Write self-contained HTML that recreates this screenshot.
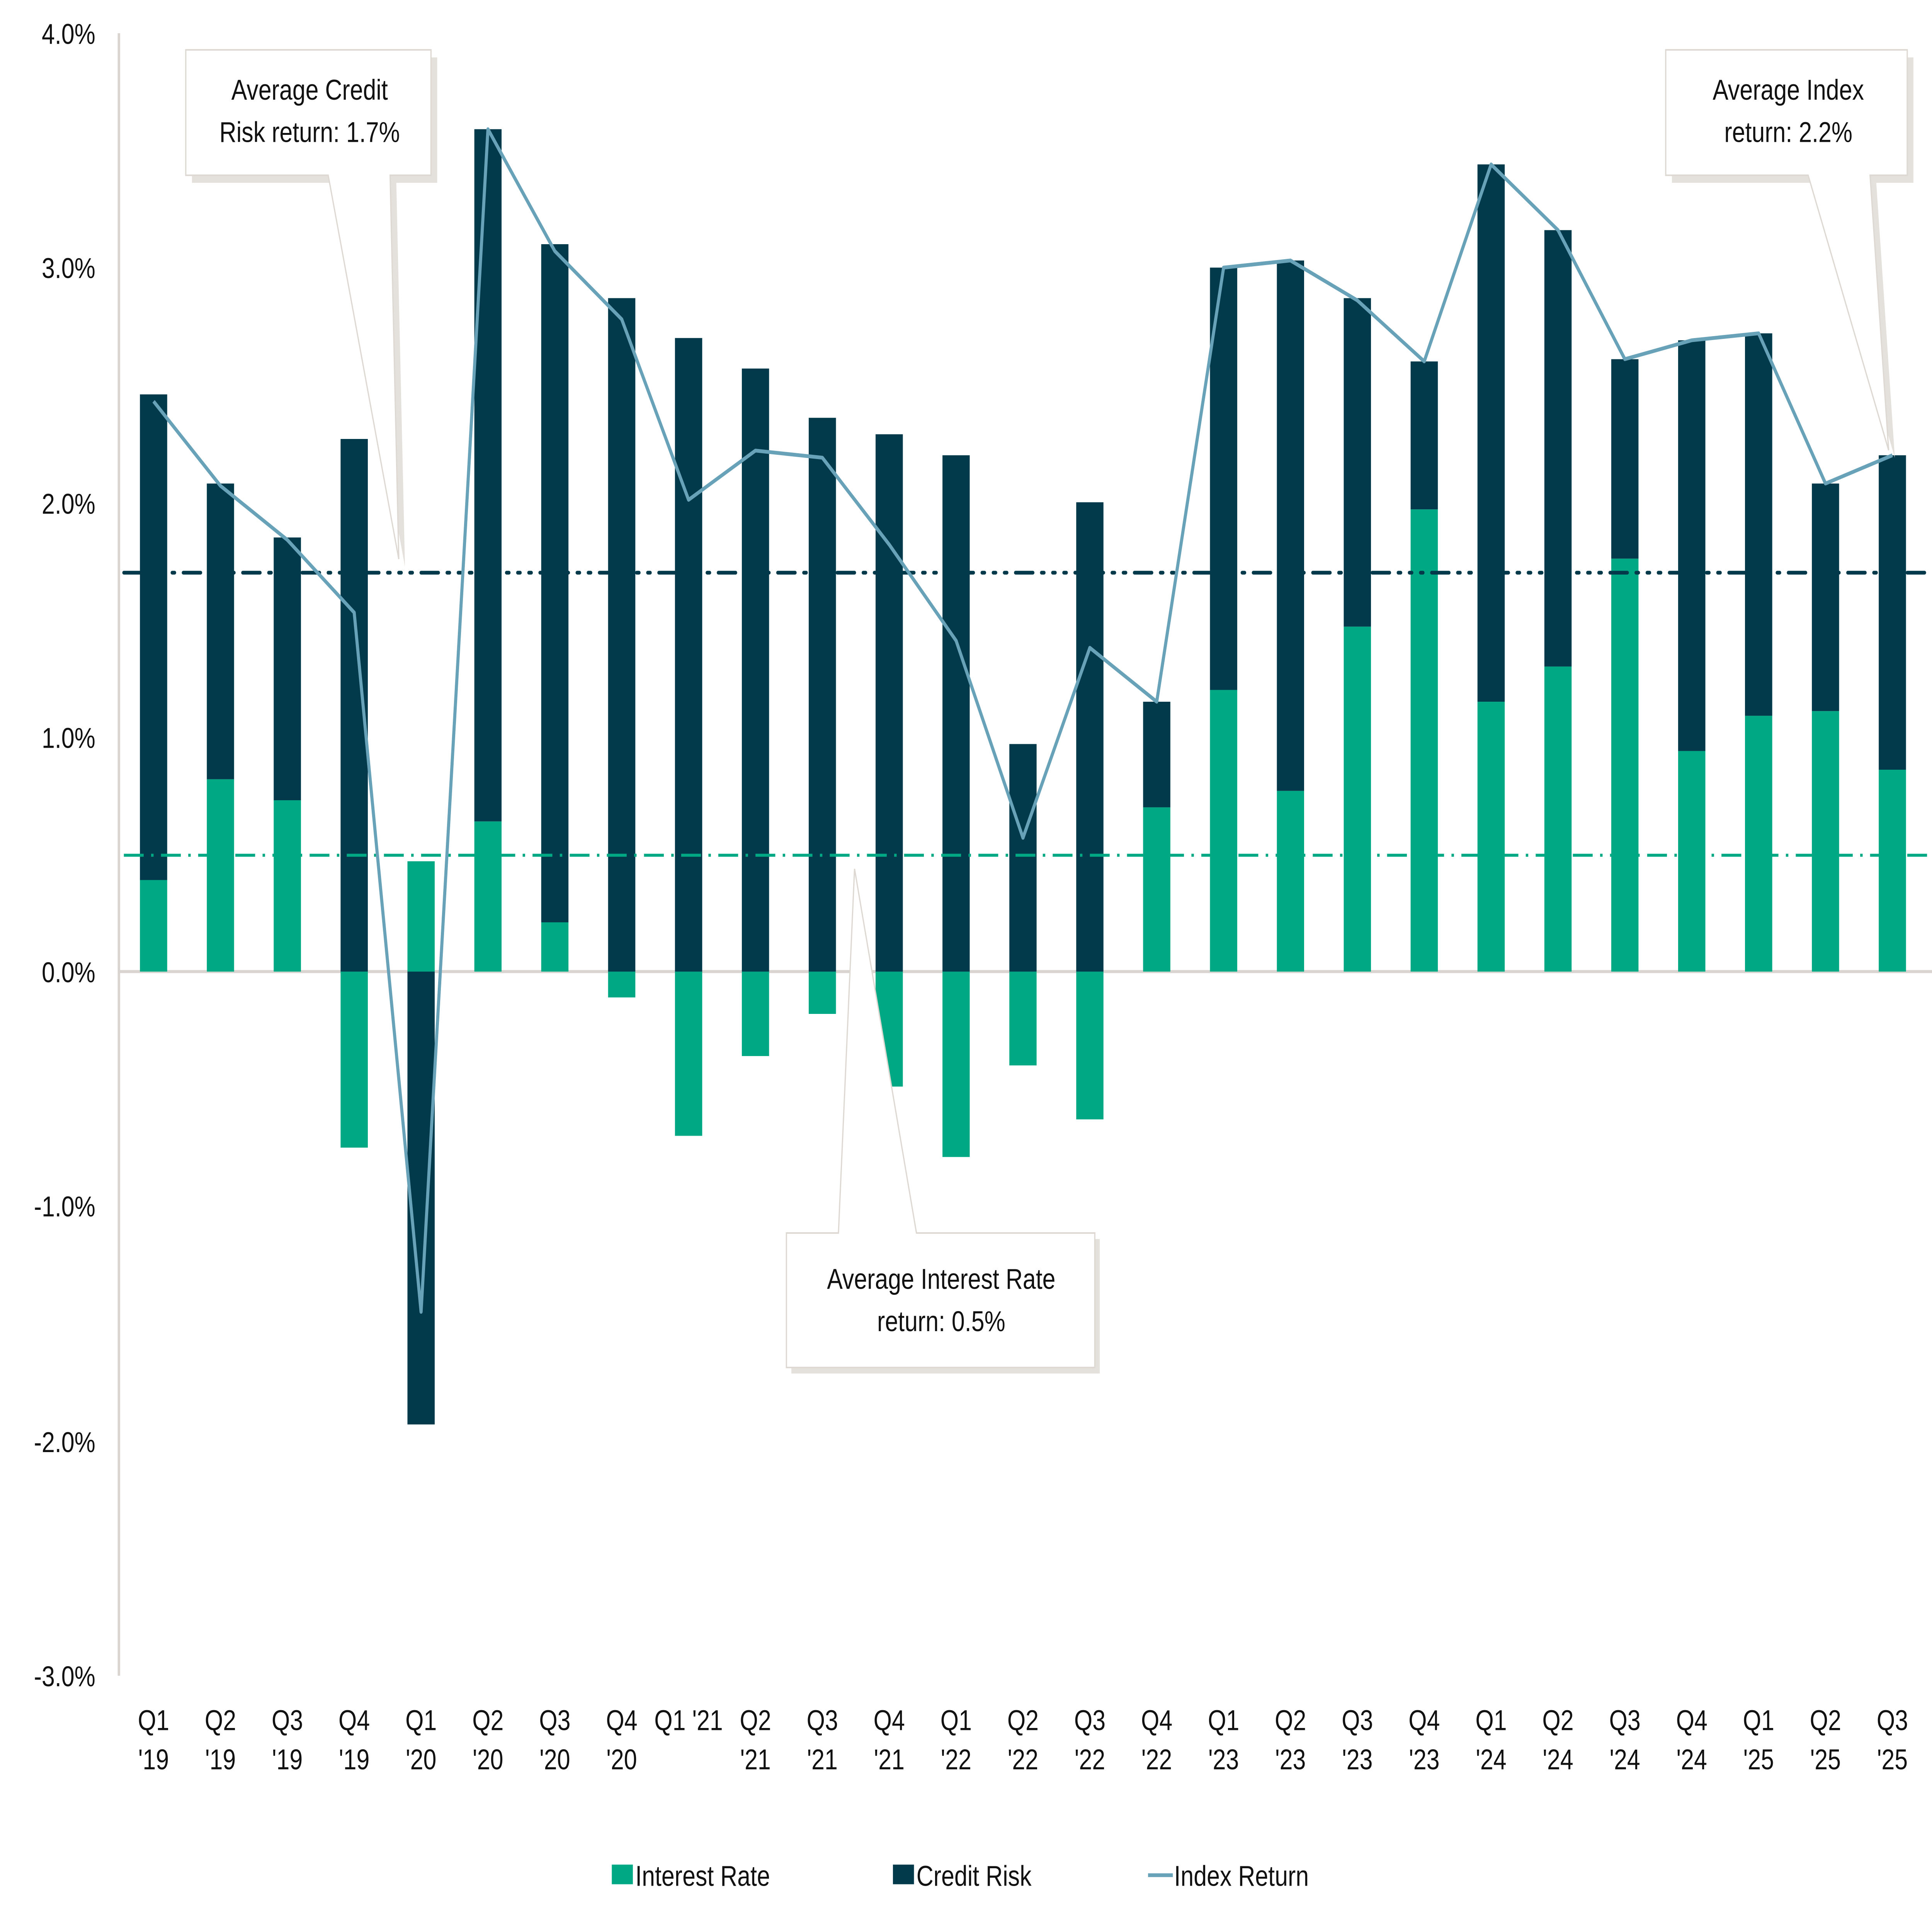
<!DOCTYPE html>
<html><head><meta charset="utf-8"><style>
html,body{margin:0;padding:0;background:#fff;width:100%;height:100%;overflow:hidden;}
svg{display:block;position:absolute;left:0;top:0;width:100vw;height:100vh;}
text{font-family:"Liberation Sans",sans-serif;fill:#111;}
</style></head><body>
<svg viewBox="0 0 1560 1278.6" preserveAspectRatio="none" xmlns="http://www.w3.org/2000/svg">
<rect width="1560" height="1278.6" fill="#fff"/>
<line x1="96" y1="22" x2="96" y2="1109" stroke="#d9d4cf" stroke-width="2"/>
<line x1="96" y1="643" x2="1560" y2="643" stroke="#d9d4cf" stroke-width="2"/>
<g font-size="19" text-anchor="end">
<text x="77" y="29">4.0%</text>
<text x="77" y="184">3.0%</text>
<text x="77" y="340">2.0%</text>
<text x="77" y="495">1.0%</text>
<text x="77" y="650">0.0%</text>
<text x="77" y="805">-1.0%</text>
<text x="77" y="961">-2.0%</text>
<text x="77" y="1116">-3.0%</text>
</g>
<g fill="#00A983">
<rect x="113" y="582.4" width="22" height="60.6"/>
<rect x="167" y="515.7" width="22" height="127.3"/>
<rect x="221" y="529.6" width="22" height="113.4"/>
<rect x="275" y="643" width="22" height="116.5"/>
<rect x="329" y="570" width="22" height="73"/>
<rect x="383" y="543.6" width="22" height="99.4"/>
<rect x="437" y="610.4" width="22" height="32.6"/>
<rect x="491" y="643" width="22" height="17.1"/>
<rect x="545" y="643" width="22" height="108.7"/>
<rect x="599" y="643" width="22" height="55.9"/>
<rect x="653" y="643" width="22" height="28"/>
<rect x="707" y="643" width="22" height="76.1"/>
<rect x="761" y="643" width="22" height="122.7"/>
<rect x="815" y="643" width="22" height="62.1"/>
<rect x="869" y="643" width="22" height="97.8"/>
<rect x="923" y="534.3" width="22" height="108.7"/>
<rect x="977" y="456.6" width="22" height="186.4"/>
<rect x="1031" y="523.4" width="22" height="119.6"/>
<rect x="1085" y="414.7" width="22" height="228.3"/>
<rect x="1139" y="337.1" width="22" height="305.9"/>
<rect x="1193" y="464.4" width="22" height="178.6"/>
<rect x="1247" y="441.1" width="22" height="201.9"/>
<rect x="1301" y="369.7" width="22" height="273.3"/>
<rect x="1355" y="497" width="22" height="146"/>
<rect x="1409" y="473.7" width="22" height="169.3"/>
<rect x="1463" y="470.6" width="22" height="172.4"/>
<rect x="1517" y="509.4" width="22" height="133.6"/>
</g>
<g fill="#023A4B">
<rect x="113" y="261" width="22" height="321.4"/>
<rect x="167" y="320" width="22" height="195.7"/>
<rect x="221" y="355.7" width="22" height="173.9"/>
<rect x="275" y="290.5" width="22" height="352.5"/>
<rect x="329" y="643" width="22" height="299.7"/>
<rect x="383" y="85.5" width="22" height="458.1"/>
<rect x="437" y="161.6" width="22" height="448.8"/>
<rect x="491" y="197.3" width="22" height="445.7"/>
<rect x="545" y="223.7" width="22" height="419.3"/>
<rect x="599" y="243.9" width="22" height="399.1"/>
<rect x="653" y="276.5" width="22" height="366.5"/>
<rect x="707" y="287.4" width="22" height="355.6"/>
<rect x="761" y="301.3" width="22" height="341.7"/>
<rect x="815" y="492.4" width="22" height="150.6"/>
<rect x="869" y="332.4" width="22" height="310.6"/>
<rect x="923" y="464.4" width="22" height="69.9"/>
<rect x="977" y="177.1" width="22" height="279.5"/>
<rect x="1031" y="172.4" width="22" height="351"/>
<rect x="1085" y="197.3" width="22" height="217.4"/>
<rect x="1139" y="239.2" width="22" height="97.9"/>
<rect x="1193" y="108.8" width="22" height="355.6"/>
<rect x="1247" y="152.3" width="22" height="288.8"/>
<rect x="1301" y="237.7" width="22" height="132"/>
<rect x="1355" y="225.2" width="22" height="271.8"/>
<rect x="1409" y="220.6" width="22" height="253.1"/>
<rect x="1463" y="320" width="22" height="150.6"/>
<rect x="1517" y="301.3" width="22" height="208.1"/>
</g>
<line x1="100" y1="379" x2="1560" y2="379" stroke="#023A4B" stroke-width="2.5" stroke-dasharray="14 7 2 7 2 7 2 7" stroke-linecap="round"/>
<line x1="100" y1="566" x2="1560" y2="566" stroke="#00A983" stroke-width="2" stroke-dasharray="16 6 2 6"/>
<polyline fill="none" stroke="#68A2B9" stroke-width="2.5" stroke-linejoin="round" points="124,265.6 178,321.5 232,357.3 286,405.4 340,868.2 394,85.5 448,166.2 502,211.3 556,330.8 610,298.2 664,302.9 718,360.4 772,424 826,554.5 880,428.7 934,464.4 988,177.1 1042,172.4 1096,198.8 1150,239.2 1204,108.8 1258,152.3 1312,237.7 1366,225.2 1420,220.6 1474,320 1528,301.3"/>
<g fill="#fff" stroke="#ddd8d2" stroke-width="1">
<path d="M152,35 H350 V118 H317 L324,372 L267,118 H152 Z" fill="#e4e0dc" stroke="none" transform="translate(3,3)"/>
<path d="M150,33 H348 V116 H315 L322,370 L265,116 H150 Z"/>
<path d="M1347,35 H1542 V118 H1512 L1527,300 L1462,118 H1347 Z" fill="#e4e0dc" stroke="none" transform="translate(3,3)"/>
<path d="M1345,33 H1540 V116 H1510 L1525,298 L1460,116 H1345 Z"/>
<path d="M637,818 H886 V907 H637 Z" fill="#e4e0dc" stroke="none" transform="translate(2,2)"/>
<path d="M635,816 H677 L690,575 L740,816 H884 V905 H635 Z"/>
</g>
<g font-size="19" text-anchor="middle">
<text x="250" y="66">Average Credit</text>
<text x="250" y="94">Risk return: 1.7%</text>
<text x="1444" y="66">Average Index</text>
<text x="1444" y="94">return: 2.2%</text>
<text x="760" y="853">Average Interest Rate</text>
<text x="760" y="881">return: 0.5%</text>
</g>
<g font-size="19" text-anchor="middle">
<text x="124" y="1145">Q1</text><text x="124" y="1171">'19</text>
<text x="178" y="1145">Q2</text><text x="178" y="1171">'19</text>
<text x="232" y="1145">Q3</text><text x="232" y="1171">'19</text>
<text x="286" y="1145">Q4</text><text x="286" y="1171">'19</text>
<text x="340" y="1145">Q1</text><text x="340" y="1171">'20</text>
<text x="394" y="1145">Q2</text><text x="394" y="1171">'20</text>
<text x="448" y="1145">Q3</text><text x="448" y="1171">'20</text>
<text x="502" y="1145">Q4</text><text x="502" y="1171">'20</text>
<text x="556" y="1145">Q1 '21</text>
<text x="610" y="1145">Q2</text><text x="610" y="1171">'21</text>
<text x="664" y="1145">Q3</text><text x="664" y="1171">'21</text>
<text x="718" y="1145">Q4</text><text x="718" y="1171">'21</text>
<text x="772" y="1145">Q1</text><text x="772" y="1171">'22</text>
<text x="826" y="1145">Q2</text><text x="826" y="1171">'22</text>
<text x="880" y="1145">Q3</text><text x="880" y="1171">'22</text>
<text x="934" y="1145">Q4</text><text x="934" y="1171">'22</text>
<text x="988" y="1145">Q1</text><text x="988" y="1171">'23</text>
<text x="1042" y="1145">Q2</text><text x="1042" y="1171">'23</text>
<text x="1096" y="1145">Q3</text><text x="1096" y="1171">'23</text>
<text x="1150" y="1145">Q4</text><text x="1150" y="1171">'23</text>
<text x="1204" y="1145">Q1</text><text x="1204" y="1171">'24</text>
<text x="1258" y="1145">Q2</text><text x="1258" y="1171">'24</text>
<text x="1312" y="1145">Q3</text><text x="1312" y="1171">'24</text>
<text x="1366" y="1145">Q4</text><text x="1366" y="1171">'24</text>
<text x="1420" y="1145">Q1</text><text x="1420" y="1171">'25</text>
<text x="1474" y="1145">Q2</text><text x="1474" y="1171">'25</text>
<text x="1528" y="1145">Q3</text><text x="1528" y="1171">'25</text>
</g>
<rect x="494" y="1234" width="17" height="13" fill="#00A983"/>
<text x="513" y="1248" font-size="19">Interest Rate</text>
<rect x="721" y="1234" width="17" height="13" fill="#023A4B"/>
<text x="740" y="1248" font-size="19">Credit Risk</text>
<line x1="927" y1="1241" x2="947" y2="1241" stroke="#68A2B9" stroke-width="2.5"/>
<text x="948" y="1248" font-size="19">Index Return</text>
</svg>
</body></html>
